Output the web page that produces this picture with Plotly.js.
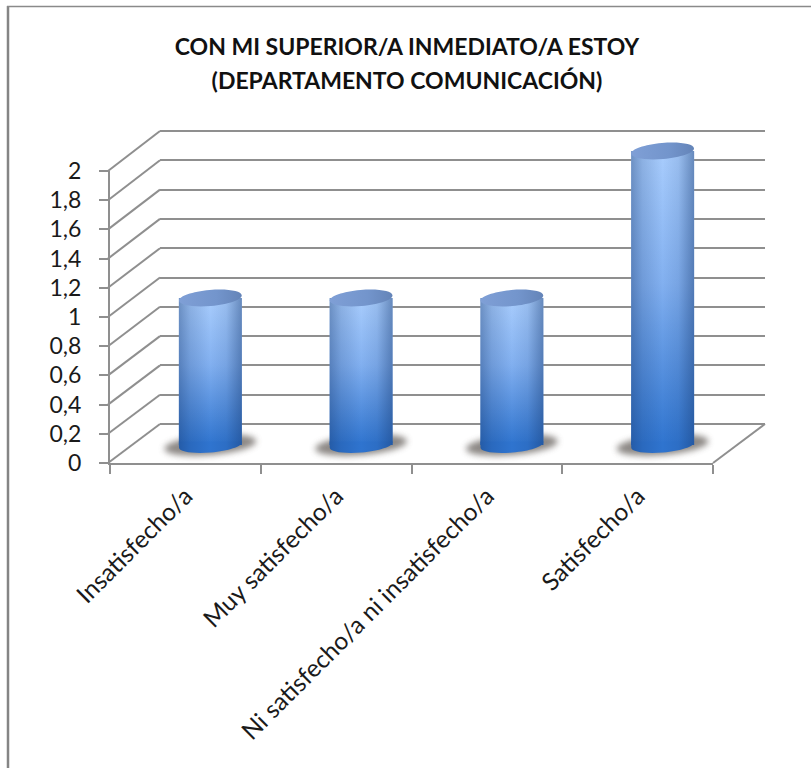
<!DOCTYPE html>
<html><head><meta charset="utf-8">
<script src="https://cdn.plot.ly/plotly-3.0.1.min.js"></script>
<style>html,body{margin:0;padding:0;background:#fff;overflow:hidden}</style>
</head><body><div id="chart" style="width:811px;height:768px"></div>
<script>
const categories = ["Insatisfecho/a","Muy satisfecho/a","Ni satisfecho/a ni insatisfecho/a","Satisfecho/a"];
const values = [1,1,1,2];
const yTickVals = [0,0.2,0.4,0.6,0.8,1,1.2,1.4,1.6,1.8,2];
const yTickText = ["0","0,2","0,4","0,6","0,8","1","1,2","1,4","1,6","1,8","2"];
const titleLines = ["CON MI SUPERIOR/A INMEDIATO/A ESTOY","(DEPARTAMENTO COMUNICACIÓN)"];

const W=811,H=768;
const px=x=>x/W, py=y=>1-y/H;
const grey='#8f8f8f';
const FONT='Lato, Carlito, sans-serif';
// wall geometry (pixel position of value 0 and value 2)
const front={x0:110,x1:713,y0:463,y2:171};
const back={x0:160,x1:765,y0:424,y2:131};
const mid={x0:135,x1:738,y0:445,y2:151};
const pad=0.2; // axis overshoot so that edge grid lines and cylinder ends are not clipped
const padded=g=>{const u=(g.y0-g.y2)/2;return [py(g.y0+pad*u),py(g.y2-pad*u)];};
const yFront=v=>front.y0+(front.y2-front.y0)*v/2;
const yBack=v=>back.y0+(back.y2-back.y0)*v/2;

const shapes=[];
yTickVals.forEach(v=>shapes.push({type:'line',xref:'paper',yref:'paper',layer:'below',
  x0:px(108),y0:py(yFront(v)),x1:px(back.x0),y1:py(yBack(v)),line:{color:grey,width:2}}));
shapes.push({type:'line',xref:'paper',yref:'paper',layer:'below',x0:px(front.x1),y0:py(front.y0),x1:px(back.x1),y1:py(back.y0),line:{color:grey,width:2}});
shapes.push({type:'line',xref:'paper',yref:'paper',x0:px(8),y0:py(6),x1:px(8),y1:0,line:{color:'#858585',width:2.5}});
shapes.push({type:'line',xref:'paper',yref:'paper',x0:px(7),y0:py(6.5),x1:1,y1:py(6.5),line:{color:'#8a8a8a',width:1.5}});

// rotated ellipse outline, in pixels around its anchor
const K=0.5523;
const rot=deg=>{const a=deg*Math.PI/180,c=Math.cos(a),s=Math.sin(a);return (x,y)=>`${(x*c-y*s).toFixed(2)},${(x*s+y*c).toFixed(2)}`;};
const lowerArc=(rx,ry,P)=>`C${P(-rx,-K*ry)} ${P(-K*rx,-ry)} ${P(0,-ry)} C${P(K*rx,-ry)} ${P(rx,-K*ry)} ${P(rx,0)}`;
const ell=(rx,ry,deg)=>{const P=rot(deg);
  return `M${P(-rx,0)} ${lowerArc(rx,ry,P)} C${P(rx,K*ry)} ${P(K*rx,ry)} ${P(0,ry)} C${P(-K*rx,ry)} ${P(-rx,K*ry)} ${P(-rx,0)} Z`;};
// only the part of the cylinder base that shows below the bar's end
const base=(rx,ry,deg)=>{const P=rot(deg);
  return `M${-rx},3.5 L${P(-rx,0)} ${lowerArc(rx,ry,P)} L${rx},3.5 Z`;};
categories.forEach((c,i)=>{
  shapes.push({type:'path',name:'shadow',layer:'below',xref:'x3',yref:'y3',xsizemode:'pixel',ysizemode:'pixel',
    xanchor:i,yanchor:0,path:ell(46,10,5),fillcolor:'#6f6a66',opacity:.8,line:{width:0}});
});
categories.forEach((c,i)=>{
  shapes.push({type:'path',name:'bottom',layer:'above',xref:'x3',yref:'y3',xsizemode:'pixel',ysizemode:'pixel',
    xanchor:i,yanchor:0,path:base(31.5,7.5,5),fillcolor:'#2c6cc0',line:{width:0}});
});
values.forEach((v,i)=>{
  shapes.push({type:'path',name:'cap',layer:'above',xref:'x3',yref:'y3',xsizemode:'pixel',ysizemode:'pixel',
    xanchor:i,yanchor:v,path:ell(31.5,8,5),fillcolor:'#7395cc',line:{width:0}});
});

const traces=[
  {type:'bar',x:categories,y:values,xaxis:'x3',yaxis:'y3',marker:{color:'#6aa0e8',line:{width:0}},width:0.418,hoverinfo:'x+y',showlegend:false},
  {type:'bar',x:categories,y:values,xaxis:'x3',yaxis:'y3',marker:{color:'#1b4f94',line:{width:0}},width:0.418,hoverinfo:'skip',showlegend:false},
  {type:'scatter',x:categories,y:values,xaxis:'x',yaxis:'y',mode:'none',hoverinfo:'skip',showlegend:false},
  {type:'scatter',x:categories,y:values,xaxis:'x2',yaxis:'y2',mode:'none',hoverinfo:'skip',showlegend:false}
];

const layout={
  width:W,height:H,margin:{l:0,r:0,t:0,b:0,pad:0},paper_bgcolor:'#fff',plot_bgcolor:'rgba(0,0,0,0)',
  barmode:'overlay',showlegend:false,
  title:{text:titleLines.join('<br>'),x:407/W,xanchor:'center',y:1-55/H,yanchor:'top',font:{family:FONT,size:23,color:'#111',weight:700}},
  font:{family:FONT,color:'#1a1a1a'},
  xaxis:{domain:[px(front.x0),px(front.x1)],anchor:'y',type:'category',categoryorder:'array',categoryarray:categories,range:[-.5,3.5],
    tickson:'boundaries',ticks:'outside',ticklen:9,tickwidth:2,tickcolor:grey,showline:true,linecolor:grey,linewidth:2,showgrid:false,zeroline:false,
    tickangle:-45,ticklabelstandoff:7,tickfont:{family:FONT,size:24.5,color:'#1a1a1a'},automargin:false},
  yaxis:{domain:[py(front.y0),py(front.y2)],anchor:'x',range:[0,2],tickmode:'array',tickvals:yTickVals,ticktext:yTickText,
    ticks:'outside',ticklen:9,tickwidth:2,tickcolor:grey,showline:true,linecolor:grey,linewidth:2,showgrid:false,zeroline:false,
    ticklabelstandoff:13,tickfont:{family:FONT,size:23,color:'#1a1a1a'},automargin:false},
  xaxis2:{domain:[px(back.x0),px(back.x1)],anchor:'y2',type:'category',range:[-.5,3.5],visible:false},
  yaxis2:{domain:padded(back),anchor:'x2',range:[-pad,2+pad],tickmode:'array',tickvals:yTickVals,showticklabels:false,ticks:'',
    showgrid:true,gridcolor:grey,gridwidth:2,zeroline:false,showline:false},
  xaxis3:{domain:[px(mid.x0),px(mid.x1)],anchor:'y3',type:'category',categoryorder:'array',categoryarray:categories,range:[-.5,3.5],visible:false},
  yaxis3:{domain:padded(mid),anchor:'x3',range:[-pad,2+pad],visible:false},
  shapes
};

Plotly.newPlot('chart',traces,layout,{displayModeBar:false,staticPlot:true}).then(gd=>{
  const svg=gd.querySelector('svg.main-svg');
  const NS='http://www.w3.org/2000/svg';
  const defs=document.createElementNS(NS,'defs');
  const lg=(id,stops,horiz)=>`<linearGradient id="${id}" x1="0" y1="0" x2="${horiz?1:0}" y2="${horiz?0:1}">`+
    stops.map(s=>`<stop offset="${s[0]}" stop-color="${s[1]}" stop-opacity="${s[2]==null?1:s[2]}"/>`).join('')+`</linearGradient>`;
  defs.innerHTML=
    lg('gBody',[[0,'#a9cdfd'],[.45,'#82b0f0'],[1,'#2f74cf']])+
    lg('gSide',[[0,'#16386e',.4],[.18,'#16386e',.18],[.5,'#16386e',0],[.75,'#16386e',.1],[1,'#16386e',.45]],true)+
    lg('gBottom',[[0,'#255ca8'],[.18,'#2a69be'],[.5,'#2f74cf'],[.75,'#2d6ec5'],[1,'#2459a3']],true)+
    lg('gCap',[[0,'#7f9fd6'],[.6,'#7395cc'],[1,'#6484b8']],true)+
    `<filter id="fBlur" x="-20%" y="-40%" width="140%" height="180%"><feGaussianBlur stdDeviation="3.2"/></filter>`;
  svg.insertBefore(defs,svg.firstChild);
  const barLayers=gd.querySelectorAll('.barlayer .trace');
  barLayers[0].querySelectorAll('path').forEach(p=>p.style.fill='url(#gBody)');
  barLayers[1].querySelectorAll('path').forEach(p=>p.style.fill='url(#gSide)');
  gd.querySelectorAll('.shapelayer path').forEach(p=>{
    const idx=+p.getAttribute('data-index');
    const nm=gd.layout.shapes[idx]&&gd.layout.shapes[idx].name;
    if(nm==='shadow')p.style.filter='url(#fBlur)';
    if(nm==='bottom')p.style.fill='url(#gBottom)';
    if(nm==='cap')p.style.fill='url(#gCap)';
  });
  const t=gd.querySelector('.gtitle');
  if(t){const l=t.querySelectorAll('tspan.line');if(l[1])l[1].setAttribute('dy','34px');}
});
</script></body></html>
